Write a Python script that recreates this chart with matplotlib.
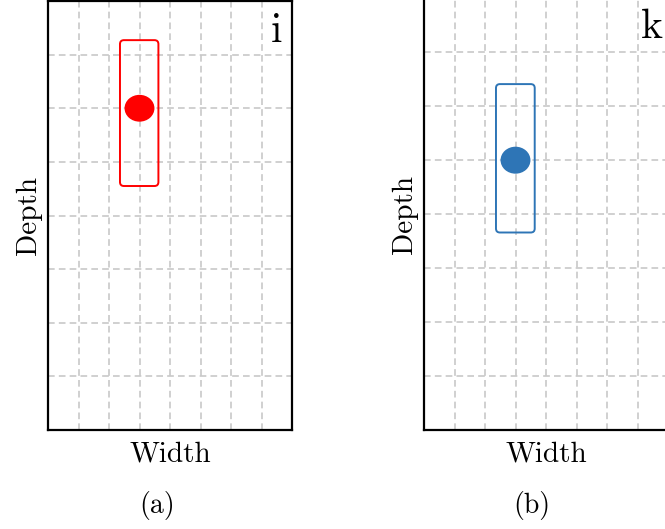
import matplotlib.pyplot as plt
from matplotlib.patches import FancyBboxPatch, Ellipse

plt.rcParams['font.family'] = 'cmr10'
plt.rcParams['axes.unicode_minus'] = False

# grid is 8 cells wide and 8 cells deep
n_cols = 8
n_rows = 8

panel_tags = ['i', 'k']
captions = ['(a)', '(b)']
dot_x = [3.0, 3.0]
dot_depth = [2.0, 3.0]
box_left = [2.36, 2.36]
box_right = [3.62, 3.63]
box_top = [0.73, 1.59]
box_bottom = [3.45, 4.34]
colors = ['#ff0000', '#2e75b6']

W, H = 665, 529
fig = plt.figure(figsize=(W / 100, H / 100), dpi=100)

# axes rectangles in pixels: left, top, width, height
frames = [(48, 1, 244, 429), (424, -1.7, 244, 431.7)]
caption_x = [157, 532]


def add_panel(k):
    left, top, w, h = frames[k]
    ax = fig.add_axes([left / W, 1 - (top + h) / H, w / W, h / H])
    ax.set_xlim(0, n_cols)
    ax.set_ylim(n_rows, 0)
    ax.set_xticks(range(1, n_cols))
    ax.set_yticks(range(1, n_rows))
    ax.tick_params(length=0, labelbottom=False, labelleft=False)
    ax.grid(True, color='#c8c8c8', linestyle=(0, (4, 2.5)), linewidth=1.2)
    ax.set_axisbelow(True)
    for s in ax.spines.values():
        s.set_linewidth(1.6)

    # keep the rounded corners circular although x and y cells differ in size
    cell_ratio = (w / n_cols) / (h / n_rows)
    box = FancyBboxPatch((box_left[k], box_top[k]),
                         box_right[k] - box_left[k], box_bottom[k] - box_top[k],
                         boxstyle='round,pad=0,rounding_size=0.13',
                         mutation_aspect=cell_ratio,
                         fill=False, edgecolor=colors[k], linewidth=1.4, zorder=3)
    ax.add_patch(box)
    ax.add_patch(Ellipse((dot_x[k], dot_depth[k]), 0.98, 0.5,
                         facecolor=colors[k], edgecolor='none', zorder=4))

    ax.set_xlabel('Width', fontsize=21, labelpad=8)
    ax.set_ylabel('Depth', fontsize=21, labelpad=4)
    return ax


tag_pos = [(282, 42), (663, 38)]
for k in range(2):
    ax = add_panel(k)
    fig.text(tag_pos[k][0] / W, 1 - tag_pos[k][1] / H, panel_tags[k],
             fontsize=30, ha='right', va='baseline')
    fig.text(caption_x[k] / W, 1 - 505 / H, captions[k],
             fontsize=20, ha='center', va='center')

fig.savefig('out.png', dpi=100)
